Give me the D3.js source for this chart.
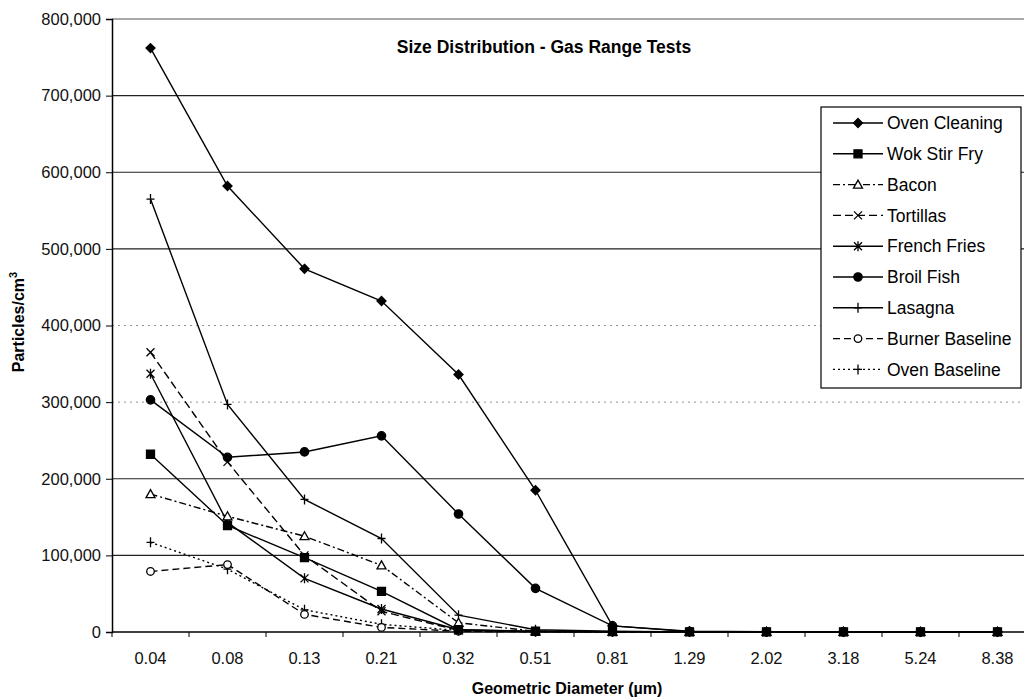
<!DOCTYPE html>
<html>
<head>
<meta charset="utf-8">
<script src="https://cdn.jsdelivr.net/npm/d3@7"></script>
<style>
  body { margin: 0; background: #fff; }
  svg { font-family: "Liberation Sans", Arial, sans-serif; display: block; }
</style>
</head>
<body>
<svg id="chart" width="1024" height="698"></svg>
<script>
// Categories (geometric diameter, µm)
const diameters = ["0.04", "0.08", "0.13", "0.21", "0.32", "0.51", "0.81", "1.29", "2.02", "3.18", "5.24", "8.38"];

// Series values (particles/cm3)
const ovenCleaning   = [762000, 582000, 474000, 432000, 336000, 185000, 8000, 1000, 500, 300, 200, 200];
const wokStirFry     = [232000, 139000, 97000, 53000, 3000, 1000, 500, 200, 100, 100, 100, 100];
const bacon          = [180000, 151000, 125000, 87000, 12000, 1000, 300, 100, 100, 100, 100, 100];
const tortillas      = [365000, 222000, 100000, 27000, 2000, 500, 200, 100, 100, 100, 100, 100];
const frenchFries    = [337000, 143000, 70000, 30000, 3000, 500, 200, 100, 100, 100, 100, 100];
const broilFish      = [303000, 228000, 235000, 256000, 154000, 57000, 8000, 500, 200, 100, 100, 100];
const lasagna        = [565000, 297000, 173000, 122000, 22000, 3000, 1000, 200, 100, 100, 100, 100];
const burnerBaseline = [79000, 88000, 23000, 6000, 1000, 300, 100, 100, 100, 100, 100, 100];
const ovenBaseline   = [117000, 82000, 29000, 10000, 2000, 300, 100, 100, 100, 100, 100, 100];

const yTicks = [0, 100000, 200000, 300000, 400000, 500000, 600000, 700000, 800000];

const series = [
  { name: "Oven Cleaning", values: ovenCleaning, dash: null, marker: "diamond" },
  { name: "Wok Stir Fry", values: wokStirFry, dash: null, marker: "square" },
  { name: "Bacon", values: bacon, dash: "7,3,2,3", marker: "triangle" },
  { name: "Tortillas", values: tortillas, dash: "8,4", marker: "x" },
  { name: "French Fries", values: frenchFries, dash: null, marker: "star" },
  { name: "Broil Fish", values: broilFish, dash: null, marker: "circle" },
  { name: "Lasagna", values: lasagna, dash: null, marker: "plus" },
  { name: "Burner Baseline", values: burnerBaseline, dash: "7,4", marker: "ocircle" },
  { name: "Oven Baseline", values: ovenBaseline, dash: "2,3", marker: "plus" },
];

const svg = d3.select("#chart");
const margin = { left: 112, top: 19, bottom: 632 };

const x = d3.scaleBand().domain(diameters).range([margin.left, margin.left + 12 * 77]);
const y = d3.scaleLinear().domain([0, 800000]).range([margin.bottom, margin.top]);
const cx = (d) => x(d) + x.bandwidth() / 2;

// Gridlines
const faint = (d) => d === 300000 || d === 400000;
svg.append("g")
  .selectAll("line")
  .data(yTicks.slice(1))
  .join("line")
  .attr("x1", margin.left).attr("x2", 1024)
  .attr("y1", (d) => y(d)).attr("y2", (d) => y(d))
  .attr("stroke", (d) => (faint(d) ? "#888" : d === 800000 ? "#555" : "#222"))
  .attr("stroke-width", (d) => (faint(d) ? 0.9 : 1.2))
  .attr("stroke-dasharray", (d) => (faint(d) ? "2,4" : null));

// Axes
const yAxis = svg.append("g")
  .attr("transform", `translate(${margin.left},0)`)
  .call(d3.axisLeft(y).tickValues(yTicks).tickSize(6).tickPadding(5).tickFormat(d3.format(",")));
const xAxis = svg.append("g")
  .attr("transform", `translate(0,${margin.bottom})`)
  .call(d3.axisBottom(x).tickSize(0).tickPadding(20));
// Excel-style ticks between categories
xAxis.selectAll(".between")
  .data(diameters)
  .join("line")
  .attr("x1", (d) => x(d)).attr("x2", (d) => x(d))
  .attr("y1", 0).attr("y2", 5)
  .attr("stroke", "#000");
[yAxis, xAxis].forEach((g) => {
  g.select(".domain").attr("stroke", "#000").attr("stroke-width", 1.5);
  g.selectAll("text").attr("font-size", 16.5).attr("fill", "#111").attr("font-family", "Liberation Sans, Arial, sans-serif");
  g.selectAll(".tick line").attr("stroke", "#000");
});
xAxis.select(".domain").attr("d", `M${margin.left},0H1024`);

// Line generator
const line = d3.line().x((d, i) => cx(diameters[i])).y((d) => y(d));

const symbolPath = {
  diamond: "M0,-4.5L4.5,0L0,4.5L-4.5,0Z",
  square: "M-4,-4H4V4H-4Z",
  triangle: "M0,-4.5L4.5,3.5H-4.5Z",
  x: "M-4,-4L4,4M4,-4L-4,4",
  star: "M-4,-4L4,4M4,-4L-4,4M0,-5V5",
  circle: d3.symbol(d3.symbolCircle, 55)(),
  plus: "M-4,0H4M0,-5V5",
  ocircle: d3.symbol(d3.symbolCircle, 45)(),
};
const markerFill = {
  diamond: "#000", square: "#000", triangle: "#fff", x: "none",
  star: "none", circle: "#000", plus: "none", ocircle: "#fff",
};

function drawMarker(g, type, tx, ty) {
  g.append("path")
    .attr("d", symbolPath[type])
    .attr("transform", `translate(${tx},${ty})`)
    .attr("fill", markerFill[type])
    .attr("stroke", "#000")
    .attr("stroke-width", 1.3);
}

const plot = svg.append("g");
series.forEach((s) => {
  plot.append("path")
    .attr("d", line(s.values))
    .attr("fill", "none")
    .attr("stroke", "#000")
    .attr("stroke-width", 1.4)
    .attr("stroke-dasharray", s.dash);
});
series.slice().reverse().forEach((s) => {
  s.values.forEach((v, i) => drawMarker(plot, s.marker, cx(diameters[i]), y(v)));
});

// Title
svg.append("text")
  .attr("x", 544).attr("y", 53)
  .attr("text-anchor", "middle")
  .attr("font-size", 17.5).attr("font-weight", "bold")
  .text("Size Distribution - Gas Range Tests");

// Axis titles
svg.append("text")
  .attr("x", 567).attr("y", 694)
  .attr("text-anchor", "middle")
  .attr("font-size", 16).attr("font-weight", "bold")
  .text("Geometric Diameter (µm)");

const yTitle = svg.append("text")
  .attr("transform", "translate(24,322) rotate(-90)")
  .attr("text-anchor", "middle")
  .attr("font-size", 16).attr("font-weight", "bold");
yTitle.append("tspan").text("Particles/cm");
yTitle.append("tspan").attr("font-size", 11).attr("dy", -7).text("3");

// Legend
const legend = svg.append("g");
legend.append("rect")
  .attr("x", 821).attr("y", 107).attr("width", 200).attr("height", 281)
  .attr("fill", "#fff").attr("stroke", "#000").attr("stroke-width", 1.2);
series.forEach((s, i) => {
  const ly = 123 + i * 30.8;
  legend.append("line")
    .attr("x1", 833).attr("x2", 883).attr("y1", ly).attr("y2", ly)
    .attr("stroke", "#000").attr("stroke-width", 1.4)
    .attr("stroke-dasharray", s.dash);
  drawMarker(legend, s.marker, 858, ly);
  legend.append("text")
    .attr("x", 887).attr("y", ly).attr("dy", "0.35em")
    .attr("font-size", 17.5)
    .text(s.name);
});
</script>
</body>
</html>
